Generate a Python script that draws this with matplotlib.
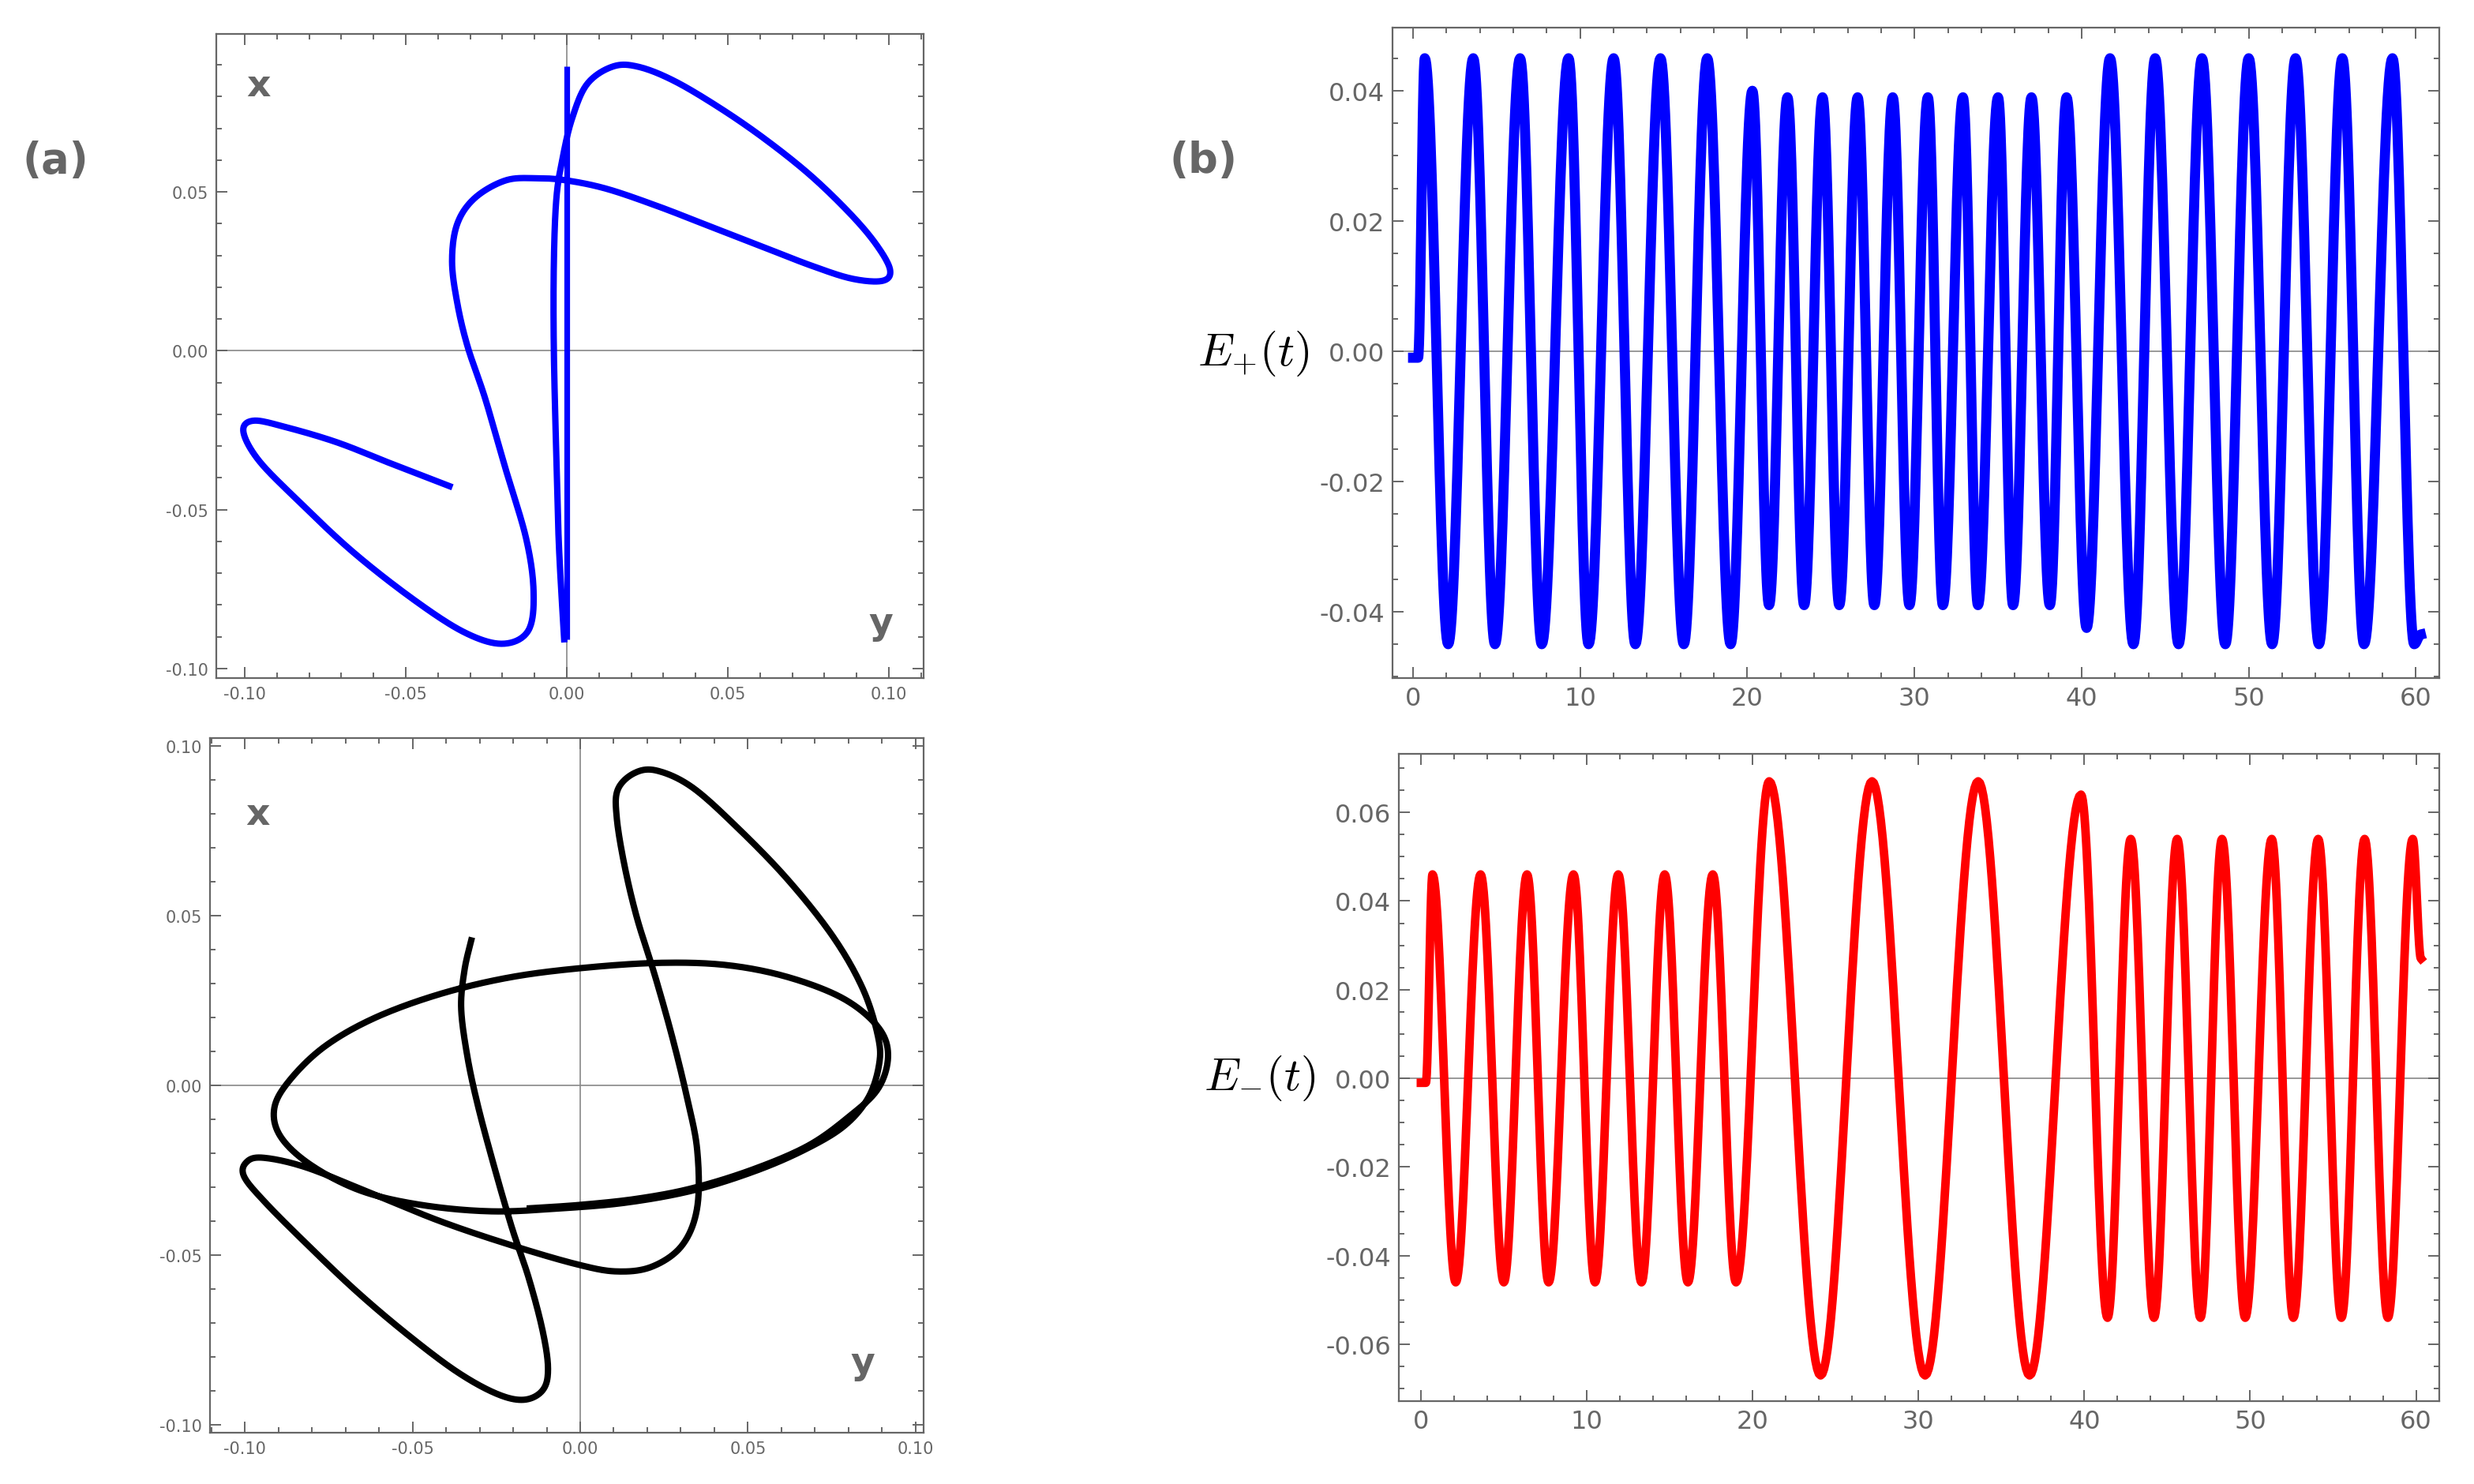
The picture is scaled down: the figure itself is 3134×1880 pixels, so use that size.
import numpy as np
import matplotlib
matplotlib.use("Agg")
import matplotlib.pyplot as plt
from matplotlib.ticker import MultipleLocator, FormatStrFormatter

plt.rcParams['mathtext.fontset'] = 'cm'

# ---- data: (a) trajectories (y, x) ----
traj_blue_y = [-0.0364, -0.0538, -0.0711, -0.0870, -0.0972, -0.1004, -0.0957, -0.0838, -0.0664, -0.0474,
               -0.0316, -0.0198, -0.0119, -0.0103, -0.0126, -0.0190, -0.0253, -0.0308, -0.0340, -0.0356,
               -0.0340, -0.0285, -0.0190, -0.0095, 0.0, 0.0126, 0.0285, 0.0443, 0.0601, 0.0759,
               0.0885, 0.0980, 0.1004, 0.0964, 0.0885, 0.0759, 0.0617, 0.0474, 0.0332, 0.0221,
               0.0142, 0.0063, 0.0016, -0.0013, -0.0032, -0.0040, -0.0040, -0.0032, -0.0024, -0.0008]
traj_blue_x = [-0.0426, -0.0358, -0.0289, -0.0241, -0.0220, -0.0254, -0.0344, -0.0468, -0.0633, -0.0784,
               -0.0887, -0.0922, -0.0880, -0.0757, -0.0591, -0.0371, -0.0151, 0.0014, 0.0151, 0.0282,
               0.0399, 0.0481, 0.0536, 0.0543, 0.0536, 0.0509, 0.0454, 0.0392, 0.0330, 0.0268,
               0.0227, 0.0220, 0.0254, 0.0330, 0.0426, 0.0550, 0.0665, 0.0765, 0.0850, 0.0894,
               0.0894, 0.0839, 0.0729, 0.0605, 0.0481, 0.0275, 0.0, -0.0344, -0.0619, -0.0908]
stem_blue_y = [0.0, 0.0]
stem_blue_x = [0.0894, -0.0908]

traj_black_y = [-0.0325, -0.0345, -0.0355, -0.0337, -0.0307, -0.0262, -0.0205, -0.0153, -0.0112, -0.0096,
                -0.0112, -0.0168, -0.0250, -0.0370, -0.0520, -0.0670, -0.0819, -0.0939, -0.1002, -0.0996,
                -0.0947, -0.0819, -0.0625, -0.0415, -0.0205, -0.0010, 0.0109, 0.0214, 0.0304, 0.0349,
                0.0349, 0.0319, 0.0274, 0.0222, 0.0169, 0.0132, 0.0109, 0.0112, 0.0162, 0.0229,
                0.0334, 0.0469, 0.0619, 0.0754, 0.0843, 0.0888, 0.0891, 0.0858, 0.0784, 0.0664,
                0.0514, 0.0334, 0.0139, -0.0055, -0.0265, -0.0475, -0.0655, -0.0804, -0.0894, -0.0912,
                -0.0864, -0.0760, -0.0610, -0.0415, -0.0205, 0.0019, 0.0244, 0.0439, 0.0619, 0.0784,
                0.0888, 0.0918, 0.0888, 0.0799, 0.0679, 0.0514, 0.0334, 0.0169, 0.0000, -0.0150]
traj_black_x = [0.0427, 0.0340, 0.0228, 0.0088, -0.0052, -0.0220, -0.0415, -0.0569, -0.0723, -0.0835,
                -0.0898, -0.0926, -0.0908, -0.0842, -0.0730, -0.0604, -0.0464, -0.0345, -0.0269, -0.0227,
                -0.0213, -0.0241, -0.0317, -0.0401, -0.0471, -0.0527, -0.0548, -0.0534, -0.0471, -0.0359,
                -0.0192, -0.0038, 0.0144, 0.0326, 0.0494, 0.0648, 0.0788, 0.0871, 0.0920, 0.0927,
                0.0878, 0.0759, 0.0606, 0.0438, 0.0284, 0.0144, 0.0060, -0.0038, -0.0122, -0.0192,
                -0.0255, -0.0310, -0.0345, -0.0362, -0.0371, -0.0352, -0.0310, -0.0234, -0.0150, -0.0066,
                0.0018, 0.0116, 0.0200, 0.0270, 0.0319, 0.0347, 0.0361, 0.0354, 0.0319, 0.0256,
                0.0172, 0.0088, -0.0010, -0.0094, -0.0178, -0.0248, -0.0303, -0.0334, -0.0352, -0.0362]

# ---- data: (b) fields, extrema (time, value) ----
eplus_t = [0.0, 0.3, 0.7, 2.1, 3.6, 4.9, 6.4, 7.7, 9.3, 10.5, 12.0, 13.3, 14.8, 16.2, 17.6, 19.0,
           20.3, 21.3, 22.4, 23.4, 24.5, 25.5, 26.6, 27.6, 28.7, 29.7, 30.8, 31.7, 32.9, 33.8,
           35.0, 35.9, 37.0, 38.1, 39.1, 40.3, 41.7, 43.1, 44.4, 45.8, 47.2, 48.6, 50.0, 51.4,
           52.8, 54.2, 55.6, 56.9, 58.6, 59.9, 60.3]
eplus_v = [-0.001, -0.001, 0.045, -0.045, 0.045, -0.045, 0.045, -0.045, 0.045, -0.045, 0.045, -0.045,
           0.045, -0.045, 0.045, -0.045,
           0.040, -0.039, 0.039, -0.039, 0.039, -0.039, 0.039, -0.039, 0.039, -0.039, 0.039, -0.039,
           0.039, -0.039, 0.039, -0.039, 0.039, -0.039, 0.039, -0.0425,
           0.045, -0.045, 0.045, -0.045, 0.045, -0.045, 0.045, -0.045, 0.045, -0.045, 0.045, -0.045,
           0.045, -0.045, -0.0435]

eminus_t = [0.0, 0.3, 0.7, 2.1, 3.6, 5.0, 6.4, 7.7, 9.2, 10.5, 11.9, 13.3, 14.7, 16.1, 17.6, 19.0,
            21.0, 24.1, 27.2, 30.4, 33.6, 36.7, 39.8, 41.4, 42.8, 44.2, 45.6, 47.0, 48.3, 49.7,
            51.3, 52.6, 54.1, 55.5, 56.9, 58.3, 59.8, 60.3]
eminus_v = [-0.001, -0.001, 0.046, -0.046, 0.046, -0.046, 0.046, -0.046, 0.046, -0.046, 0.046, -0.046,
            0.046, -0.046, 0.046, -0.046,
            0.067, -0.067, 0.067, -0.067, 0.067, -0.067, 0.064, -0.054, 0.054, -0.054, 0.054, -0.054,
            0.054, -0.054, 0.054, -0.054, 0.054, -0.054, 0.054, -0.054, 0.054, 0.027]


def smooth_path(xs, ys, n=20):
    # Catmull-Rom through the read points
    p = np.column_stack([xs, ys])
    p = np.vstack([p[0], p, p[-1]])
    out = []
    s = np.linspace(0, 1, n, endpoint=False)[:, None]
    for i in range(1, len(p) - 2):
        p0, p1, p2, p3 = p[i - 1], p[i], p[i + 1], p[i + 2]
        out.append(0.5 * ((2 * p1) + (-p0 + p2) * s + (2 * p0 - 5 * p1 + 4 * p2 - p3) * s ** 2
                          + (-p0 + 3 * p1 - 3 * p2 + p3) * s ** 3))
    out.append(p[-2][None, :])
    out = np.vstack(out)
    return out[:, 0], out[:, 1]


def extrema_wave(ts, vs, n=30):
    # half-cosine swing between consecutive extrema
    tt, vv = [], []
    for i in range(len(ts) - 1):
        s = np.linspace(0, 1, n, endpoint=False)
        w = 0.5 - 0.5 * np.cos(np.pi * s)
        tt.append(ts[i] + (ts[i + 1] - ts[i]) * s)
        vv.append(vs[i] + (vs[i + 1] - vs[i]) * w)
    tt.append([ts[-1]])
    vv.append([vs[-1]])
    return np.concatenate(tt), np.concatenate(vv)


gray = '#666666'
W, H = 3134, 1881
fig = plt.figure(figsize=(W / 200, H / 200), dpi=200)


def box(l, r, t, b):
    return [l / W, 1 - b / H, (r - l) / W, (b - t) / H]


def style(ax, fs):
    for s in ax.spines.values():
        s.set_color(gray)
        s.set_linewidth(0.8)
    ax.tick_params(which='both', direction='in', top=True, right=True, colors=gray,
                   labelcolor=gray, labelsize=fs, width=0.7)
    ax.tick_params(which='major', length=5)
    ax.tick_params(which='minor', length=2.5)
    ax.axhline(0, color='#888888', lw=0.6, zorder=0)


def left_ticks(ax):
    ax.xaxis.set_major_locator(MultipleLocator(0.05))
    ax.yaxis.set_major_locator(MultipleLocator(0.05))
    ax.xaxis.set_minor_locator(MultipleLocator(0.01))
    ax.yaxis.set_minor_locator(MultipleLocator(0.01))
    ax.xaxis.set_major_formatter(FormatStrFormatter('%.2f'))
    ax.yaxis.set_major_formatter(FormatStrFormatter('%.2f'))


def right_ticks(ax):
    ax.xaxis.set_major_locator(MultipleLocator(10))
    ax.xaxis.set_minor_locator(MultipleLocator(2))
    ax.yaxis.set_major_locator(MultipleLocator(0.02))
    ax.yaxis.set_minor_locator(MultipleLocator(0.005))
    ax.yaxis.set_major_formatter(FormatStrFormatter('%.2f'))


# (a) top
ax1 = fig.add_axes(box(274, 1170, 44, 860))
style(ax1, 7.5)
ax1.axvline(0, color='#888888', lw=0.6, zorder=0)
ax1.plot(stem_blue_y, stem_blue_x, color='blue', lw=2.6, solid_capstyle='butt')
bx, by = smooth_path(traj_blue_y, traj_blue_x)
ax1.plot(bx, by, color='blue', lw=2.9)
ax1.set_xlim(-0.1088, 0.1108)
ax1.set_ylim(-0.103, 0.0997)
left_ticks(ax1)
ax1.text(0.06, 0.92, 'x', transform=ax1.transAxes, fontsize=17, fontweight='bold', color=gray,
         ha='center', va='center')
ax1.text(0.94, 0.085, 'y', transform=ax1.transAxes, fontsize=17, fontweight='bold', color=gray,
         ha='center', va='center')

# (a) bottom
ax2 = fig.add_axes(box(266, 1170, 936, 1816))
style(ax2, 7.5)
ax2.axvline(0, color='#888888', lw=0.6, zorder=0)
kx, ky = smooth_path(traj_black_y, traj_black_x)
ax2.plot(kx, ky, color='black', lw=2.9)
ax2.set_xlim(-0.1104, 0.1024)
ax2.set_ylim(-0.1023, 0.1023)
left_ticks(ax2)
ax2.text(0.067, 0.89, 'x', transform=ax2.transAxes, fontsize=17, fontweight='bold', color=gray,
         ha='center', va='center')
ax2.text(0.915, 0.1, 'y', transform=ax2.transAxes, fontsize=17, fontweight='bold', color=gray,
         ha='center', va='center')

# (b) top
ax3 = fig.add_axes(box(1764, 3090, 36, 860))
style(ax3, 11.5)
pt, pv = extrema_wave(eplus_t, eplus_v)
ax3.plot(pt, pv, color='blue', lw=4.6)
ax3.set_xlim(-1.23, 61.4)
ax3.set_ylim(-0.0502, 0.0497)
right_ticks(ax3)
ax3.text(-0.08, 0.5, r'$E_{+}(t)$', transform=ax3.transAxes, fontsize=21, ha='right', va='center')

# (b) bottom
ax4 = fig.add_axes(box(1772, 3090, 956, 1776))
style(ax4, 11.5)
mt, mv = extrema_wave(eminus_t, eminus_v)
ax4.plot(mt, mv, color='red', lw=3.9)
ax4.set_xlim(-1.33, 61.4)
ax4.set_ylim(-0.0728, 0.0732)
right_ticks(ax4)
ax4.text(-0.08, 0.5, r'$E_{-}(t)$', transform=ax4.transAxes, fontsize=21, ha='right', va='center')

fig.text(70 / W, 1 - 204 / H, '(a)', fontsize=19, fontweight='bold', color=gray, ha='center', va='center')
fig.text(1524 / W, 1 - 204 / H, '(b)', fontsize=19, fontweight='bold', color=gray, ha='center', va='center')

fig.savefig('out.png', dpi=200)
